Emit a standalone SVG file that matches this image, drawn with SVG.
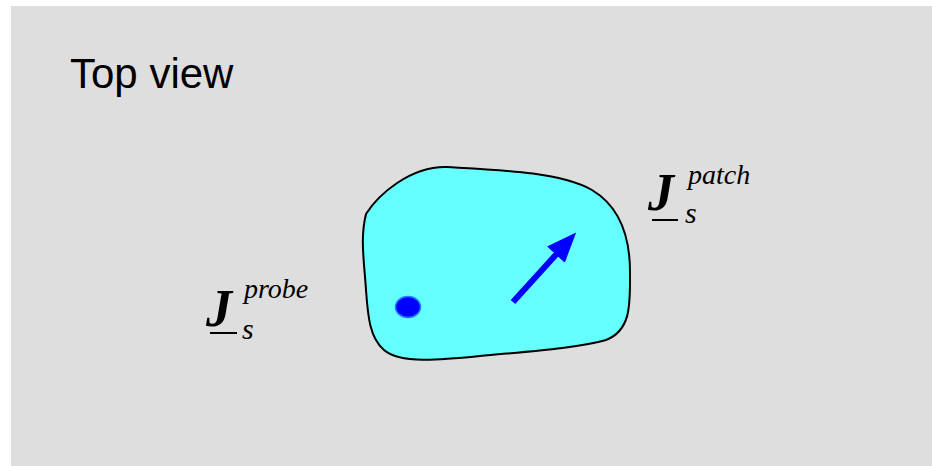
<svg xmlns="http://www.w3.org/2000/svg" width="932" height="466" viewBox="0 0 932 466">
<defs>
<style>
.title{font-family:"Liberation Sans",Arial,sans-serif;font-size:42px;fill:#000}
.J{font-family:"Liberation Serif","Times New Roman",serif;font-style:italic;font-weight:bold;font-size:52px;fill:#000}
.sub{font-family:"Liberation Serif","Times New Roman",serif;font-style:italic;font-size:30px;fill:#000}
.sup{font-family:"Liberation Serif","Times New Roman",serif;font-style:italic;font-size:28px;fill:#000}
.ul{stroke:#000;stroke-width:2}
</style>
<marker id="ah" markerWidth="5" markerHeight="5" refX="1.5" refY="2" orient="auto" markerUnits="strokeWidth" viewBox="0 0 5 4">
<path d="M0,0 L5,2 L0,4 Z" fill="#0000ff"/>
</marker>
</defs>
<rect x="11" y="6" width="921" height="460" fill="#dedede"/>
<text class="title" x="70" y="88">Top view</text>
<g id="patch">
<path d="M447,167 C500,170 560,172 592,190 C622,208 630,240 630,272 C630,302 632,330 606,340 C580,348 520,352 480,356 C440,360 400,364 384,350 C370,338 368,318 366,290 C364,260 360,238 366,214 C378,195 410,166 447,167 Z" fill="#66ffff" stroke="#000" stroke-width="2"/>
</g>
<g id="probe">
<ellipse cx="408" cy="307" rx="12.5" ry="10.5" fill="#0000ff" stroke="#2277ff" stroke-width="1.5"/>
</g>
<g id="connectors">
<line x1="513" y1="302" x2="562" y2="248" stroke="#0000ff" stroke-width="6" marker-end="url(#ah)"/>
</g>
<g id="label-probe">
<text class="J" x="206" y="326">J</text>
<line class="ul" x1="210" y1="333" x2="237" y2="333"/>
<text class="sub" x="242" y="339">s</text>
<text class="sup" x="244" y="298">probe</text>
</g>
<g id="label-patch">
<text class="J" x="648" y="210">J</text>
<line class="ul" x1="652" y1="220" x2="678" y2="220"/>
<text class="sub" x="685" y="223">s</text>
<text class="sup" x="688" y="184">patch</text>
</g>
</svg>
